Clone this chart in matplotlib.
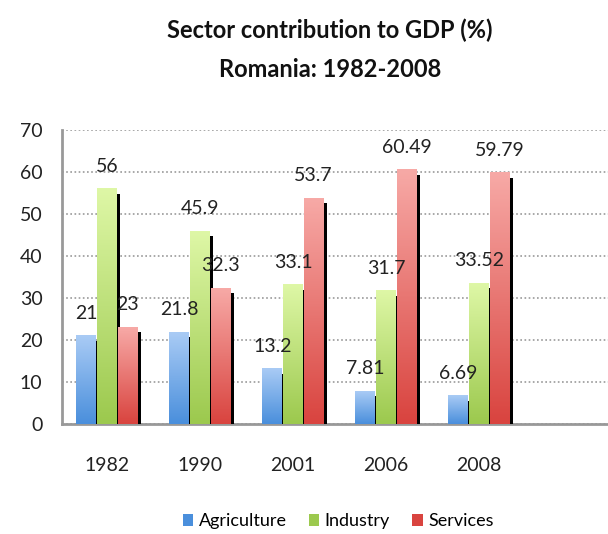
import matplotlib.pyplot as plt
import numpy as np
from matplotlib.colors import LinearSegmentedColormap
from matplotlib.patches import Patch

plt.rcParams['font.family'] = ['Lato', 'DejaVu Sans']

years = ["1982", "1990", "2001", "2006", "2008"]
agriculture = [21, 21.8, 13.2, 7.81, 6.69]
industry = [56, 45.9, 33.1, 31.7, 33.52]
services = [23, 32.3, 53.7, 60.49, 59.79]
label_text = {
    "Agriculture": ["21", "21.8", "13.2", "7.81", "6.69"],
    "Industry": ["56", "45.9", "33.1", "31.7", "33.52"],
    "Services": ["23", "32.3", "53.7", "60.49", "59.79"],
}

series = [
    ("Agriculture", agriculture, ("#a9cbf5", "#4a8fdc"), -0.222),
    ("Industry", industry, ("#def7a6", "#9cc94e"), 0.0),
    ("Services", services, ("#f7a9a6", "#d9443f"), 0.222),
]
width = 0.215

fig = plt.figure(figsize=(6.08, 5.34), dpi=100)
ax = fig.add_axes([0.102, 0.206, 0.898, 0.551])

x = np.arange(len(years))
grad = np.linspace(0, 1, 100).reshape(-1, 1)
for i, (name, vals, (top_c, bot_c), off) in enumerate(series):
    cmap = LinearSegmentedColormap.from_list(name, [top_c, bot_c])
    z = 3 + i * 2
    for xi, v, lab in zip(x, vals, label_text[name]):
        x0 = xi + off - width / 2
        # black drop shadow
        ax.bar(x0 + width / 2 + 0.035, v - 1.2, width=width, bottom=0,
               color="black", zorder=z)
        ax.imshow(grad, cmap=cmap, aspect="auto",
                  extent=[x0, x0 + width, 0, v], origin="upper", zorder=z + 1)
        ax.annotate(lab, (xi + off, v), xytext=(0, 10), textcoords="offset points",
                    ha="center", va="bottom", fontsize=14, color="#222222", zorder=10)

ax.set_xlim(-0.484, 5.387)
ax.set_ylim(0, 70)
ax.set_yticks(range(0, 71, 10))
ax.set_xticks(x)
ax.set_xticklabels(years)
ax.tick_params(axis="both", length=0, labelsize=14, colors="#222222")
ax.tick_params(axis="x", pad=24)
ax.tick_params(axis="y", pad=14)
ax.yaxis.grid(True, linestyle=(0, (1, 1.5)), color="#999999", linewidth=1.2)
ax.set_axisbelow(True)
for s in ["top", "right"]:
    ax.spines[s].set_visible(False)
for s in ["left", "bottom"]:
    ax.spines[s].set_color("#999999")
    ax.spines[s].set_linewidth(2)

fig.text(0.543, 0.944, "Sector contribution to GDP (%)", ha="center", va="center",
         fontsize=17, fontweight="bold", color="#111111")
fig.text(0.543, 0.869, "Romania: 1982-2008", ha="center", va="center",
         fontsize=17, fontweight="bold", color="#111111")

handles = [Patch(facecolor=c[1], label=n) for n, _, c, _ in series]
fig.legend(handles=handles, loc="center", bbox_to_anchor=(0.556, 0.024), ncol=3,
           frameon=False, fontsize=13, handlelength=0.6, handleheight=0.6,
           handletextpad=0.3, columnspacing=1.2)

fig.savefig("out.png", dpi=100)
